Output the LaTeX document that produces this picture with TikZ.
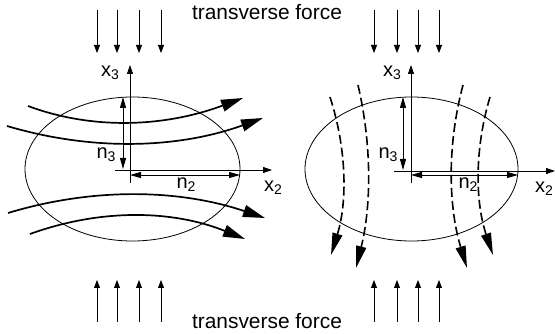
\documentclass[tikz,border=0pt]{standalone}
\usepackage{fontspec}
\setmainfont{Liberation Sans}
\usetikzlibrary{arrows.meta}
\newcommand{\lbsub}[1]{\raisebox{-0.3ex}{\fontsize{14}{14}\selectfont #1}}
\tikzset{
  thin line/.style={line width=0.8pt},
  force/.style={line width=0.8pt,-{Triangle[length=8pt,width=6pt]}},
  axis/.style={line width=0.8pt,-{Triangle[length=9pt,width=6pt]}},
  dim/.style={line width=0.8pt,{Triangle[length=11pt,width=6pt]}-{Triangle[length=11pt,width=6pt]}},
  flow/.style={line width=1.7pt,-{Triangle[length=22pt,width=12pt]}},
  dflow/.style={line width=1.6pt,dash pattern=on 9pt off 4pt,-{Triangle[length=22pt,width=10pt]}},
  lbl/.style={inner sep=0pt,font=\fontsize{20}{20}\selectfont},
  title/.style={inner sep=0pt,font=\fontsize{20.9}{24}\selectfont},
}
\begin{document}
\begin{tikzpicture}[x=1pt,y=-1pt]
\useasboundingbox (0,0) rectangle (555,334);
% texts
\node[title] (ttop) at (267,12) {transverse force};
\node[title] (tbot) at (267,321) {transverse force};
% force arrows
\foreach \i/\x in {1/97,2/117,3/139,4/161,5/374,6/397,7/418,8/439}{
  \coordinate (ft\i) at (\x,10); \coordinate (fte\i) at (\x,53);
  \coordinate (fb\i) at (\x,322); \coordinate (fbe\i) at (\x,280);
  \draw[force] (ft\i) -- (fte\i);
  \draw[force] (fb\i) -- (fbe\i);
}
% ---- left figure
\draw[thin line] (132.5,169) ellipse [x radius=107.5, y radius=72];
\coordinate (La3s) at (130,183); \coordinate (La3e) at (130,65);
\coordinate (La2s) at (115,170); \coordinate (La2e) at (272,170);
\draw[axis] (La3s) -- (La3e);
\draw[axis] (La2s) -- (La2e);
\coordinate (Ln3a) at (123,97); \coordinate (Ln3b) at (123,169);
\draw[dim] (Ln3a) -- (Ln3b);
\coordinate (Ln2a) at (130,175); \coordinate (Ln2b) at (240,175);
\draw[dim] (Ln2a) -- (Ln2b);
\node[lbl] (Lx3) at (110,73) {x\lbsub{3}};
\node[lbl] (Lx2) at (273,188) {x\lbsub{2}};
\node[lbl] (Ln3) at (106,155) {n\lbsub{3}};
\node[lbl] (Ln2) at (186,185) {n\lbsub{2}};
% flow lines
\coordinate (f1s) at (28,106); \coordinate (f1e) at (243,98);
\coordinate (f2s) at (7,126); \coordinate (f2e) at (263,118);
\coordinate (f3s) at (8,213); \coordinate (f3e) at (265,218);
\coordinate (f4s) at (30,234); \coordinate (f4e) at (245,239);
\draw[flow] (f1s) .. controls (92.3,130) and (164,127.3) .. (f1e);
\draw[flow] (f2s) .. controls (92.3,151.3) and (177.7,148.7) .. (f2e);
\draw[flow] (f3s) .. controls (93,187.3) and (178.7,189) .. (f3e);
\draw[flow] (f4s) .. controls (101,208.3) and (172.7,210) .. (f4e);
% ---- right figure
\draw[thin line] (411.5,169) ellipse [x radius=106.5, y radius=72];
\coordinate (Ra3s) at (411,183); \coordinate (Ra3e) at (411,65);
\coordinate (Ra2s) at (394,171); \coordinate (Ra2e) at (555,171);
\draw[axis] (Ra3s) -- (Ra3e);
\draw[axis] (Ra2s) -- (Ra2e);
\coordinate (Rn3a) at (403,97); \coordinate (Rn3b) at (403,170);
\draw[dim] (Rn3a) -- (Rn3b);
\coordinate (Rn2a) at (411,175); \coordinate (Rn2b) at (518,175);
\draw[dim] (Rn2a) -- (Rn2b);
\node[lbl] (Rx3) at (392,73) {x\lbsub{3}};
\node[lbl] (Rx2) at (544,189) {x\lbsub{2}};
\node[lbl] (Rn3) at (388,155) {n\lbsub{3}};
\node[lbl] (Rn2) at (468,185) {n\lbsub{2}};
% dashed flow lines
\coordinate (d1s) at (330,97); \coordinate (d1e) at (331,255);
\coordinate (d2s) at (358,85); \coordinate (d2e) at (356,268);
\coordinate (d3s) at (463,85); \coordinate (d3e) at (467,268);
\coordinate (d4s) at (490,97); \coordinate (d4e) at (493,255);
\draw[dflow] (d1s) .. controls (347,149.7) and (347.3,202.3) .. (d1e);
\draw[dflow] (d2s) .. controls (372,145.3) and (371.3,206.3) .. (d2e);
\draw[dflow] (d3s) .. controls (447,145.3) and (448.3,206.3) .. (d3e);
\draw[dflow] (d4s) .. controls (474.3,149.7) and (475.3,202.3) .. (d4e);
\end{tikzpicture}
\end{document}
